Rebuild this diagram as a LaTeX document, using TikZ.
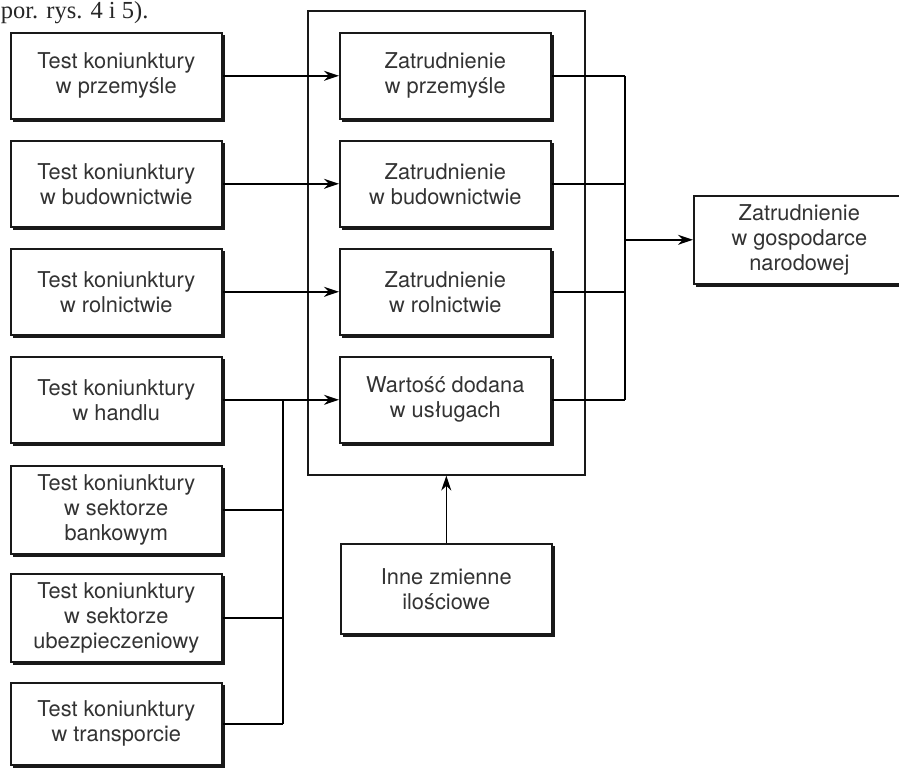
\documentclass[tikz,border=0pt]{standalone}
\usepackage{fontspec}
\setmainfont{TeX Gyre Heros}
\newfontfamily\bookserif{Liberation Serif}
\usetikzlibrary{arrows.meta}
\begin{document}
\begin{tikzpicture}[x=1pt,y=-1pt,
  line width=1.6pt,
  box/.style={draw=black!90, fill=white, anchor=north west, align=center,
    minimum width=211pt, minimum height=86pt, inner sep=0pt,
    text=black!80, font=\fontsize{21.8}{25}\selectfont},
  shade/.style={fill=black!90},
  arr/.style={-{Stealth[length=15pt,width=10pt]}}]
\useasboundingbox (0,0) rectangle (899,769);
\node[anchor=base west, font=\bookserif\fontsize{24.5}{26}\selectfont, text=black!85, inner sep=0pt] (cap) at (0,18) {por. rys. 4 i 5).};
% container
\node[draw=black!90, anchor=north west, minimum width=277pt, minimum height=464pt, inner sep=0pt] (frame) at (307,10) {};
% left boxes
\node[box] (L1) at (10,32) {Test koniunktury\\w przemyśle};
\node[box] (L2) at (10,140) {Test koniunktury\\w budownictwie};
\node[box] (L3) at (10,248) {Test koniunktury\\w rolnictwie};
\node[box] (L4) at (10,356) {Test koniunktury\\w handlu};
\node[box, minimum height=88pt] (L5) at (10,465) {Test koniunktury\\w sektorze\\bankowym};
\node[box, minimum height=88pt] (L6) at (10,573) {Test koniunktury\\w sektorze\\ubezpieczeniowy};
\node[box, minimum height=82pt] (L7) at (10,682) {Test koniunktury\\w transporcie};
% middle boxes
\node[box] (M1) at (339,32) {Zatrudnienie\\w przemyśle};
\node[box] (M2) at (339,140) {Zatrudnienie\\w budownictwie};
\node[box] (M3) at (339,248) {Zatrudnienie\\w rolnictwie};
\node[box] (M4) at (339,356) {Wartość dodana\\w usługach};
% other boxes
\node[box, minimum height=90pt] (I) at (340,543) {Inne zmienne\\ilościowe};
\node[box, minimum height=88pt] (R) at (693,195) {Zatrudnienie\\w gospodarce\\narodowej};
% shadows on bottom and right edges
\foreach \n in {L1,L2,L3,L4,L5,L6,L7,M1,M2,M3,M4,I,R}{
  \fill[shade] ([xshift=3pt]\n.south west) rectangle ([xshift=2pt,yshift=-2.6pt]\n.south east);
  \fill[shade] ([yshift=-3pt]\n.north east) rectangle ([xshift=2pt,yshift=-2.6pt]\n.south east);
}
% buses
\coordinate (lbus) at (283,0);
\coordinate (rbus) at (625,0);
% left arrows
\draw[arr] (L1.east) -- (M1.west);
\draw[arr] (L2.east) -- (M2.west);
\draw[arr] (L3.east) -- (M3.west);
\draw[arr] (L4.east) -- (M4.west);
\draw (L5.east) -- (L5.east -| lbus);
\draw (L6.east) -- (L6.east -| lbus);
\draw (L7.east) -- (L7.east -| lbus);
\draw (L4.east -| lbus) -- (L7.east -| lbus);
% right side
\draw (M1.east) -- (M1.east -| rbus);
\draw (M2.east) -- (M2.east -| rbus);
\draw (M3.east) -- (M3.east -| rbus);
\draw (M4.east) -- (M4.east -| rbus);
\draw (M1.east -| rbus) -- (M4.east -| rbus);
\draw[arr] (R.west -| rbus) -- (R.west);
% bottom arrow
\draw[arr] (I.north) -- (I.north |- frame.south);
\end{tikzpicture}
\end{document}
